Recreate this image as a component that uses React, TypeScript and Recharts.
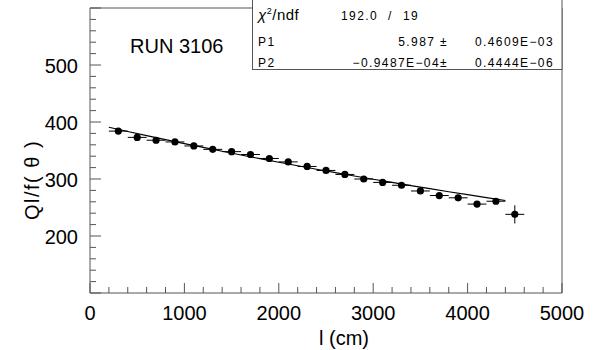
import { ComposedChart, Scatter, XAxis, YAxis, ErrorBar, ReferenceArea } from "recharts";

// measured points: distance along the wire (cm) vs corrected charge
const lengthCm = [300, 500, 700, 900, 1100, 1300, 1500, 1700, 1900, 2100, 2300, 2500, 2700, 2900, 3100, 3300, 3500, 3700, 3900, 4100, 4300, 4500];
const qlf = [384, 373, 368, 365, 358, 352, 348, 343, 336, 330, 322, 315, 308, 300, 294, 289, 279, 271, 267, 256, 261, 238];
const qlfErr = [3, 3, 3, 3, 3, 3, 3, 3, 3, 3, 3, 3, 3, 3, 3, 3, 3, 3, 3, 3, 4, 16];
const binHalfWidth = [100, 100, 100, 100, 100, 100, 100, 100, 100, 100, 100, 100, 100, 100, 100, 100, 100, 100, 100, 100, 100, 100];

const xTicks = [0, 200, 400, 600, 800, 1000, 1200, 1400, 1600, 1800, 2000, 2200, 2400, 2600, 2800, 3000, 3200, 3400, 3600, 3800, 4000, 4200, 4400, 4600, 4800, 5000];
const xLabels = [0, 1000, 2000, 3000, 4000, 5000];
const yTicks = [100, 120, 140, 160, 180, 200, 220, 240, 260, 280, 300, 320, 340, 360, 380, 400, 420, 440, 460, 480, 500, 520, 540, 560, 580, 600];
const yLabels = [200, 300, 400, 500];

// exponential fit  Q = exp(P1 + P2 * l)
const fitP1 = 5.987;
const fitP2 = -0.9487e-4;
const fitFrom = 200;
const fitTo = 4400;

const FONT = '"Liberation Sans", Arial, Helvetica, sans-serif';
const FRAME = "#555";

const points = lengthCm.map((x, i) => ({ x, y: qlf[i], ex: binHalfWidth[i], ey: qlfErr[i] }));

const fitPoints: { x: number; y: number }[] = [];
for (let x = fitFrom; x <= fitTo; x += 200) {
  fitPoints.push({ x, y: Math.exp(fitP1 + fitP2 * x) });
}

function YTick(props: any) {
  const { x, y, payload } = props;
  const major = payload.value % 100 === 0;
  return (
    <g>
      <line x1={x} x2={x + (major ? 11 : 6)} y1={y} y2={y} stroke={FRAME} />
      {yLabels.includes(payload.value) && (
        <text x={x - 12} y={y + 7.5} textAnchor="end" fontSize={20} fontFamily={FONT} fill="#000">
          {payload.value}
        </text>
      )}
    </g>
  );
}

function XTick(props: any) {
  const { x, y, payload } = props;
  const major = payload.value % 1000 === 0;
  return (
    <g>
      <line x1={x} x2={x} y1={y} y2={y - (major ? 10 : 6)} stroke={FRAME} />
      {xLabels.includes(payload.value) && (
        <text x={x} y={y + 27} textAnchor="middle" fontSize={20} fontFamily={FONT} fill="#000">
          {payload.value}
        </text>
      )}
    </g>
  );
}

const dot = (p: any) => <circle cx={p.cx} cy={p.cy} r={3.6} fill="#000" />;
const noDot = () => <g />;

export default function App() {
  return (
    <div style={{ position: "absolute", left: 0, top: 0, width: 599, height: 350, background: "#fff" }}>
      <ComposedChart width={599} height={350} margin={{ top: 8, right: 37, bottom: 0, left: 0 }}>
        <XAxis
          type="number"
          dataKey="x"
          domain={[0, 5000]}
          ticks={xTicks}
          interval={0}
          tick={<XTick />}
          tickLine={false}
          axisLine={false}
          tickSize={0}
          tickMargin={0}
          height={57}
        />
        <YAxis
          type="number"
          dataKey="y"
          domain={[100, 600]}
          ticks={yTicks}
          interval={0}
          tick={<YTick />}
          tickLine={false}
          axisLine={false}
          tickSize={0}
          tickMargin={0}
          width={90}
        />
        <ReferenceArea x1={0} x2={5000} y1={100} y2={600} fill="none" stroke={FRAME} strokeWidth={1} />
        <Scatter data={fitPoints} line={{ stroke: "#000", strokeWidth: 1.2 }} shape={noDot} isAnimationActive={false} />
        <Scatter data={points} shape={dot} isAnimationActive={false}>
          <ErrorBar dataKey="ex" direction="x" width={0} stroke="#000" strokeWidth={1} isAnimationActive={false} />
          <ErrorBar dataKey="ey" direction="y" width={0} stroke="#000" strokeWidth={1} isAnimationActive={false} />
        </Scatter>
      </ComposedChart>

      <svg width={599} height={350} style={{ position: "absolute", left: 0, top: 0, pointerEvents: "none" }}>
        <text x={32} y={180} transform="rotate(-90 32 180)" dy={7} textAnchor="middle" fontSize={20} fontFamily={FONT} letterSpacing={1.5}>
          Ql/f( θ )
        </text>
        <text x={344} y={345} textAnchor="middle" fontSize={20} fontFamily={FONT}>
          l (cm)
        </text>
        <text x={130} y={53} fontSize={20} fontFamily={FONT}>
          RUN 3106
        </text>

        <rect x={252.5} y={-1} width={309.5} height={70.5} fill="#fff" stroke={FRAME} />
        <g fontSize={12} fontFamily={FONT} fill="#000" letterSpacing={1.4}>
          <text x={258} y={20} fontSize={15} letterSpacing={0.5}>
            <tspan fontStyle="italic">χ</tspan>
            <tspan dy={-6} fontSize={9}>2</tspan>
            <tspan dy={6}>/ndf</tspan>
          </text>
          <text x={341} y={20}>192.0</text>
          <text x={388} y={20}>/</text>
          <text x={403} y={20}>19</text>

          <text x={258} y={45.5}>P1</text>
          <text x={448} y={45.5} textAnchor="end">5.987 ±</text>
          <text x={554} y={45.5} textAnchor="end">0.4609E−03</text>

          <text x={258} y={66.5}>P2</text>
          <text x={448} y={66.5} textAnchor="end">−0.9487E−04±</text>
          <text x={554} y={66.5} textAnchor="end">0.4444E−06</text>
        </g>
      </svg>
    </div>
  );
}
